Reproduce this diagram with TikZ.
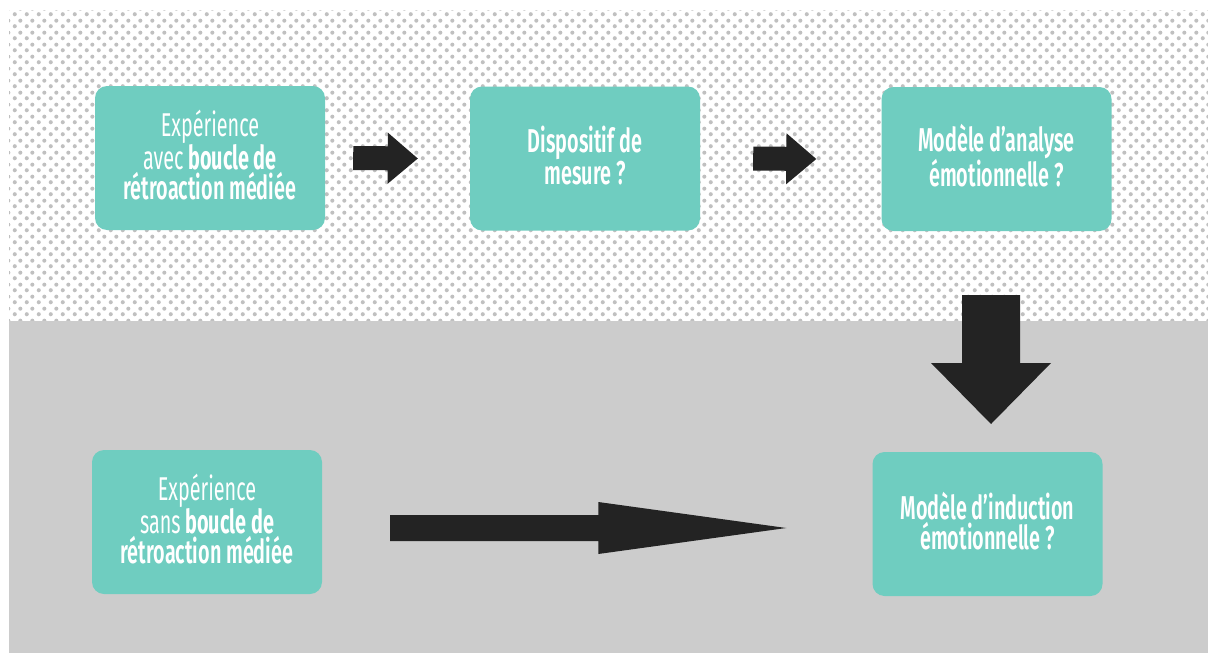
\documentclass[tikz,border=0pt]{standalone}
\usepackage{fontspec}
\newfontfamily\condlight[FakeStretch=0.6]{Fira Sans}
\newfontfamily\condsemi[FakeStretch=0.6]{Fira Sans SemiBold}
\newfontfamily\condbold[FakeStretch=0.6]{Fira Sans Bold}
\usetikzlibrary{calc, patterns}
\definecolor{boxteal}{RGB}{111,205,192}
\definecolor{arrowblack}{RGB}{35,35,35}
\definecolor{bandgray}{RGB}{204,204,204}
\definecolor{dotgray}{RGB}{192,192,192}
\pgfdeclarepatternformonly{dotgrid}{\pgfqpoint{0pt}{0pt}}{\pgfqpoint{12pt}{12pt}}{\pgfqpoint{12pt}{12pt}}{%
  \pgfpathcircle{\pgfqpoint{3pt}{3pt}}{2.2pt}%
  \pgfpathcircle{\pgfqpoint{9pt}{9pt}}{2.2pt}%
  \pgfusepath{fill}}
% fat arrow: start, tip, shaft half-width, head half-width, head length
\newcommand\fatarrow[5]{%
  \coordinate (fa-hb) at ($(#2)!#5!(#1)$);
  \fill[arrowblack] ($(#1)!#3!90:(#2)$) -- ($(fa-hb)!#3!90:(#2)$) -- ($(fa-hb)!#4!90:(#2)$)
    -- (#2) -- ($(fa-hb)!#4!-90:(#2)$) -- ($(fa-hb)!#3!-90:(#2)$) -- ($(#1)!#3!-90:(#2)$) -- cycle;}
\tikzset{box/.style={fill=boxteal, rounded corners=12pt, minimum width=230pt, minimum height=144pt,
    text=white, align=center, inner sep=0pt, font={\condsemi\fontsize{33}{30}\selectfont}}}

\begin{document}
\begin{tikzpicture}[x=1pt, y=-1pt]
        \useasboundingbox (0,0) rectangle (1208,653);
        % Background
        \fill[white] (0,0) rectangle (1208,653);
        \fill[pattern=dotgrid, pattern color=dotgray] (9,10) rectangle (1208,321);
        \fill[bandgray] (9,321) rectangle (1208,653);

        % Nodes
        \node[box] (avec) at (210,158) {{\condlight Expérience}\\{\condlight avec} {\condbold boucle de}\\rétroaction médiée\\[-23pt]\mbox{}};
        \node[box] (mesure) at (585,158.5) {Dispositif de\\mesure ?\\[-23pt]\mbox{}};
        \node[box] (analyse) at (996.5,159) {Modèle d’analyse\\émotionnelle ?\\[-23pt]\mbox{}};
        \node[box] (sans) at (207,522) {{\condlight Expérience}\\{\condlight sans} {\condbold boucle de}\\rétroaction médiée\\[-23pt]\mbox{}};
        \node[box] (induction) at (987.5,524) {Modèle d’induction\\émotionnelle ?\\[-23pt]\mbox{}};

        % Arrows
        \coordinate (a1s) at ([xshift=28pt]avec.east);
        \coordinate (a1e) at ([xshift=-52pt]mesure.west);
        \coordinate (a2s) at ([xshift=53pt]mesure.east);
        \coordinate (a2e) at ([xshift=-65pt]analyse.west);
        \coordinate (a3s) at (991,295);
        \coordinate (a3e) at (991,424);
        \coordinate (a4s) at ([xshift=68pt]sans.east |- 0,528);
        \coordinate (a4e) at ([xshift=-86pt]induction.west |- 0,528);
        \fatarrow{a1s}{a1e}{12pt}{25.5pt}{30pt}
        \fatarrow{a2s}{a2e}{12pt}{25.5pt}{30pt}
        \fatarrow{a3s}{a3e}{29pt}{60pt}{61pt}
        \fatarrow{a4s}{a4e}{13pt}{26pt}{188pt}
    \end{tikzpicture}
\end{document}
